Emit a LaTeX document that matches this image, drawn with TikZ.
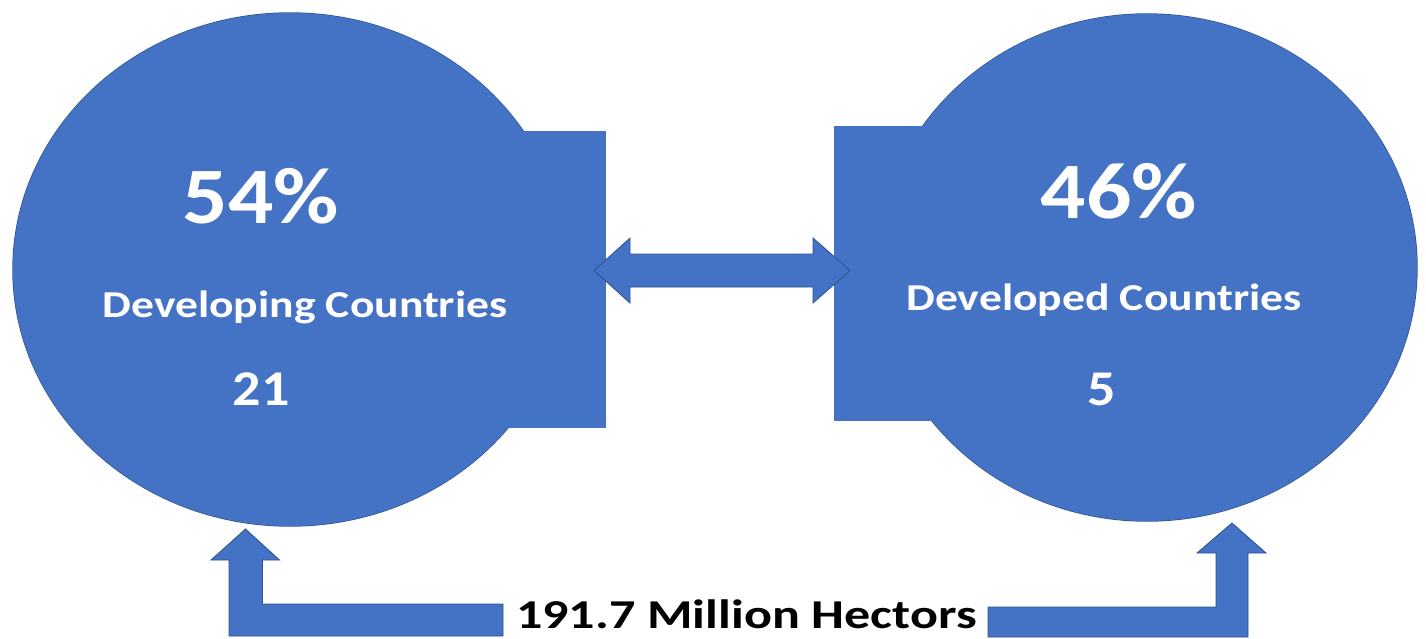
\documentclass[tikz,border=0pt]{standalone}
\usepackage{fontspec}
\setmainfont{Carlito}
\usetikzlibrary{shapes.geometric,calc}
\definecolor{fillblue}{RGB}{68,114,196}
\definecolor{edgeblue}{RGB}{47,82,143}
\begin{document}
\begin{tikzpicture}[x=1pt,y=-1pt,
  blob/.style={fill=fillblue, draw=edgeblue, line width=1.4pt},
  shapebox/.style={rectangle, blob, inner sep=0pt},
  oval/.style={ellipse, blob, inner sep=0pt},
  arrowshape/.style={fill=fillblue, draw=edgeblue, line width=0.8pt, line join=miter},
  lbl/.style={text=white, font=\bfseries, inner sep=0pt, anchor=base},
  bigpct/.style={lbl, font=\fontsize{80}{80}\selectfont\bfseries, xscale=1.12},
  midlbl/.style={lbl, font=\fontsize{38}{38}\selectfont\bfseries, xscale=1.2},
  numlbl/.style={lbl, font=\fontsize{50}{50}\selectfont\bfseries, xscale=1.12},
  bottomlbl/.style={text=black, inner sep=0pt, anchor=base, font=\fontsize{41}{41}\selectfont\bfseries, xscale=1.27}]
\useasboundingbox (0,0) rectangle (1426,638);

% left group
\node[oval, minimum width=554pt, minimum height=513pt] (L) at (290,269.5) {};
\node[shapebox, minimum width=155pt, minimum height=295pt] (LR) at (527.5,279.5) {};
\fill[fillblue] (L.center) ellipse [x radius=277, y radius=256.5];
\fill[fillblue] (LR.south west) rectangle (LR.north east);

% right group
\node[oval, minimum width=540pt, minimum height=507pt] (R) at (1147,267.5) {};
\node[shapebox, minimum width=165pt, minimum height=293pt] (RR) at (917.5,273.5) {};
\fill[fillblue] (R.center) ellipse [x radius=270, y radius=253.5];
\fill[fillblue] (RR.south west) rectangle (RR.north east);

% double arrow between the two groups
\coordinate (dl) at (594,270.5);
\coordinate (dr) at (850,270.5);
\draw[arrowshape] (dl) -- ++(36,-32.5) -- ++(0,16) -- ($(dr)+(-37,-16.5)$) -- ++(0,-16)
  -- (dr) -- ++(-37,32.5) -- ++(0,-16) -- ($(dl)+(36,16.5)$) -- ++(0,16) -- cycle;

% bottom label
\node[bottomlbl] (H) at (746.5,628) {191.7 Million Hectors};

% bottom left arrow
\coordinate (lt) at (245.5,529);
\draw[arrowshape] (lt) -- ++(34,31) -- ++(-17,0) -- ++(0,44) -- (503,604) -- (503,636)
  -- ($(lt)+(-16.5,107)$) -- ++(0,-76) -- ++(-18,0) -- cycle;

% bottom right arrow
\coordinate (rt) at (1232,523);
\draw[arrowshape] (rt) -- ++(34,30) -- ++(-18,0) -- ++(0,84) -- (988,637) -- (988,607)
  -- ($(rt)+(-16,84)$) -- ++(0,-54) -- ++(-19,0) -- cycle;

% texts
\node[bigpct] (p1) at (261,223) {54\%};
\node[midlbl] (d1) at (305,317) {Developing Countries};
\node[numlbl] (n1) at (261,405) {21};
\node[bigpct] (p2) at (1119,218) {46\%};
\node[midlbl] (d2) at (1104,310) {Developed Countries};
\node[numlbl] (n2) at (1102,405) {5};
\end{tikzpicture}
\end{document}
